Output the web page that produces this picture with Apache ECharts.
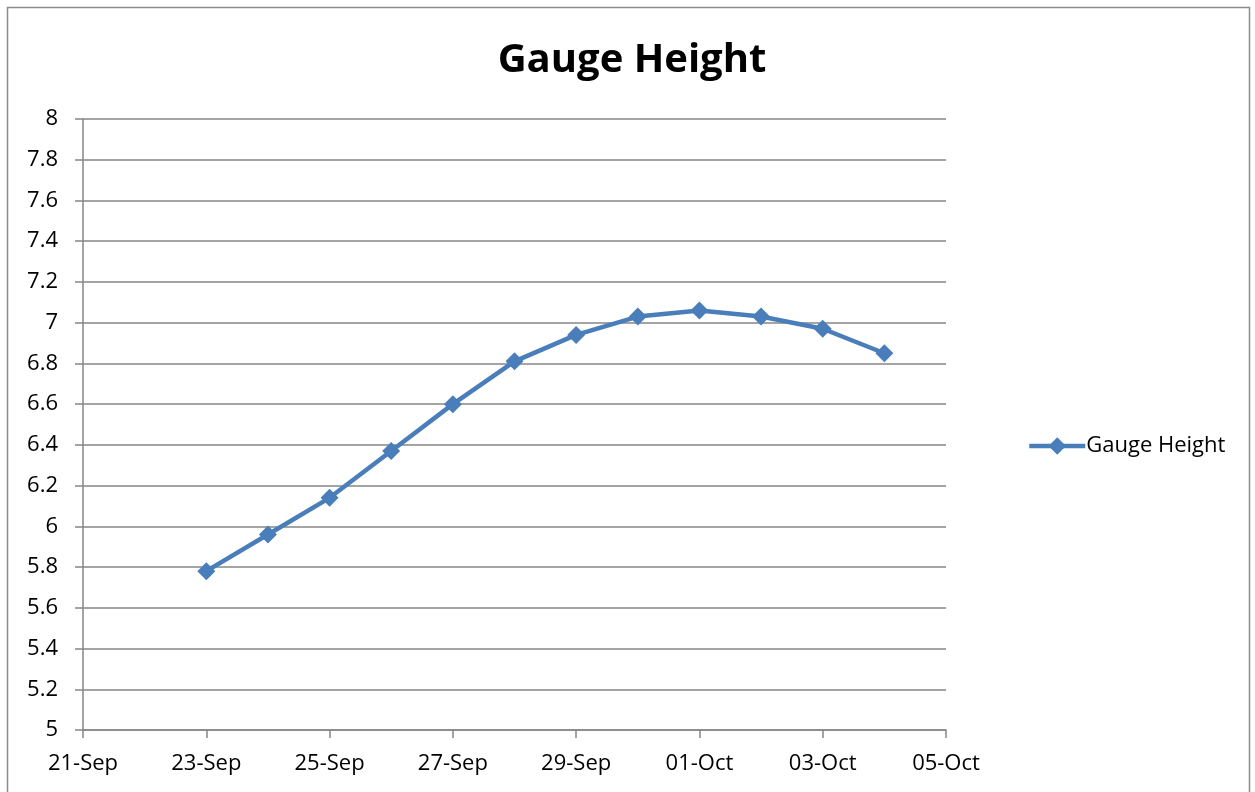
<!DOCTYPE html>
<html>
<head>
<meta charset="utf-8">
<style>
  html, body { margin: 0; padding: 0; background: #fff; }
  #chart { width: 1255px; height: 792px; }
</style>
<script src="https://cdn.jsdelivr.net/npm/echarts@6/dist/echarts.min.js"></script>
</head>
<body>
<div id="chart"></div>
<script>
// Daily gauge readings
const dates = ['23-Sep', '24-Sep', '25-Sep', '26-Sep', '27-Sep', '28-Sep',
               '29-Sep', '30-Sep', '01-Oct', '02-Oct', '03-Oct', '04-Oct'];
const gaugeHeight = [5.78, 5.96, 6.14, 6.37, 6.60, 6.81, 6.94, 7.03, 7.06, 7.03, 6.97, 6.85];

// Axis tick labels (every second day starting 21-Sep)
const xTickLabels = ['21-Sep', '23-Sep', '25-Sep', '27-Sep', '29-Sep', '01-Oct', '03-Oct', '05-Oct'];
const yMin = 5, yMax = 8, yStep = 0.2;

const FONT = '"Open Sans", sans-serif';
const monthStart = { Sep: 0, Oct: 30 };   // day offsets relative to 01-Sep
const origin = 21;                         // x axis starts at 21-Sep
function dayOffset(label) {
  const [d, m] = label.split('-');
  return monthStart[m] + parseInt(d, 10) - origin;
}

const seriesData = dates.map((d, i) => [dayOffset(d), gaugeHeight[i]]);
const axisGray = '#868686';
const lineBlue = '#4a7ebb';

const chart = echarts.init(document.getElementById('chart'), null, { renderer: 'canvas' });
chart.setOption({
  backgroundColor: '#fff',
  animation: false,
  title: {
    text: 'Gauge Height',
    left: 627, top: 36, textAlign: 'center',
    textStyle: { fontFamily: FONT, fontSize: 40, fontWeight: 'bold', color: '#000' }
  },
  graphic: [{
    type: 'rect',
    shape: { x: 7.5, y: 7.5, width: 1242, height: 800 },
    style: { fill: 'none', stroke: '#8c8c8c', lineWidth: 1.5 },
    silent: true
  }],
  legend: {
    data: ['Gauge Height'],
    left: 1022, top: 430, orient: 'vertical',
    itemWidth: 56, itemHeight: 22, itemGap: 4,
    lineStyle: { width: 4.5, color: lineBlue },
    textStyle: { fontFamily: FONT, fontSize: 22, color: '#000', padding: [0, 0, 0, -4] }
  },
  grid: { left: 83, right: 309, top: 119, bottom: 62, containLabel: false },
  xAxis: {
    type: 'value',
    min: 0, max: 14, interval: 2,
    axisLine: { show: true, lineStyle: { color: axisGray, width: 1.5 } },
    axisTick: { show: true, length: 8, lineStyle: { color: axisGray, width: 1.5 } },
    splitLine: { show: false },
    axisLabel: {
      fontFamily: FONT, fontSize: 22, color: '#000', margin: 23,
      formatter: v => xTickLabels[Math.round(v / 2)] || ''
    }
  },
  yAxis: {
    type: 'value',
    min: yMin, max: yMax, interval: yStep,
    axisLine: { show: true, lineStyle: { color: axisGray, width: 1.5 } },
    axisTick: { show: true, length: 8, lineStyle: { color: axisGray, width: 1.5 } },
    splitLine: { show: true, lineStyle: { color: axisGray, width: 1.5 } },
    axisLabel: {
      fontFamily: FONT, fontSize: 22, color: '#000', margin: 25,
      formatter: v => String(parseFloat(v.toFixed(1)))
    }
  },
  series: [{
    name: 'Gauge Height',
    type: 'line',
    data: seriesData,
    symbol: 'diamond',
    symbolSize: 18,
    lineStyle: { color: lineBlue, width: 4.5 },
    itemStyle: { color: lineBlue }
  }]
});
</script>
</body>
</html>
